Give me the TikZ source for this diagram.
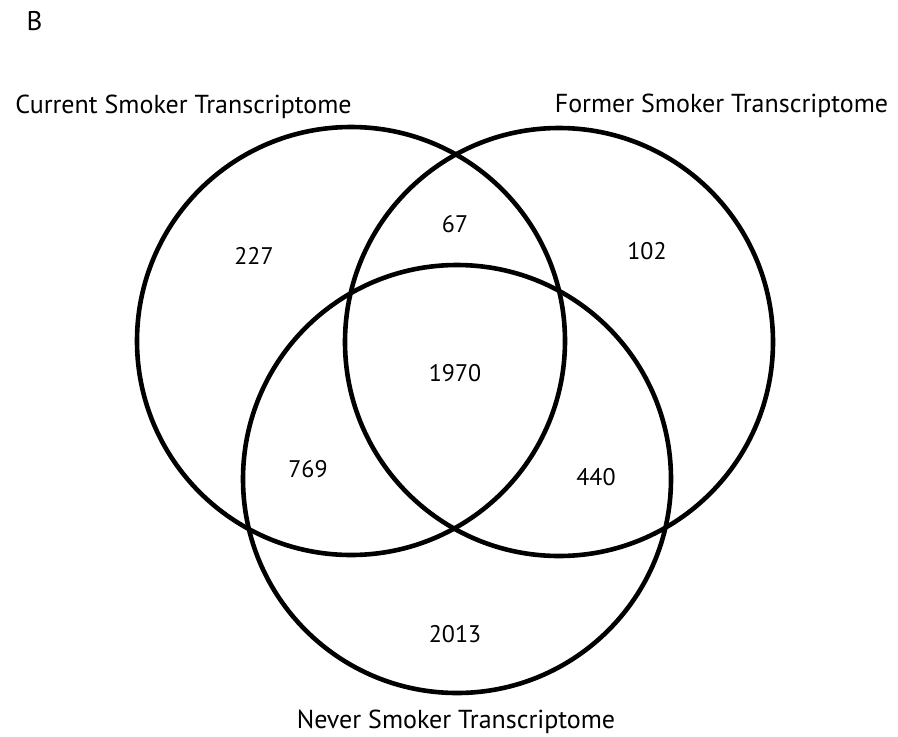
\documentclass[tikz,border=0pt]{standalone}
\usepackage{fontspec}
\setmainfont{PT Sans}
\usepackage{tikz}
\usetikzlibrary{positioning}

\tikzset{
  setcircle/.style={circle, draw=black, line width=4.6pt, minimum size=428pt, inner sep=0pt},
  setlabel/.style={anchor=base, inner sep=0pt, font=\fontsize{26}{30}\selectfont},
  count/.style={inner sep=0pt, font=\fontsize{24}{28}\selectfont}
}

\begin{document}
\begin{tikzpicture}[x=1pt, y=-1pt]
\useasboundingbox (0,0) rectangle (898,737);

% --- panel letter ---
\node[setlabel, font=\fontsize{27}{31}\selectfont] (panel) at (34.5,30) {B};

% --- the three sets ---
\node[setcircle] (current) at (351,341) {};
\node[setcircle] (former) at (559,342) {};
\node[setcircle] (never) at (457,479) {};

% --- set names ---
\node[setlabel] (currentname) at (183.5,113) {Current Smoker Transcriptome};
\node[setlabel] (formername) at (721.5,112) {Former Smoker Transcriptome};
\node[setlabel] (nevername) at (456,728) {Never Smoker Transcriptome};

% --- region counts ---
\node[count] (onlycurrent) at (254,256) {227};
\node[count] (curfor) at (455,224) {67};
\node[count] (onlyformer) at (647,251) {102};
\node[count] (allthree) at (455,373.5) {1970};
\node[count] (curnev) at (308,469) {769};
\node[count] (fornev) at (596,477.5) {440};
\node[count] (onlynever) at (455,634) {2013};
\end{tikzpicture}
\end{document}
